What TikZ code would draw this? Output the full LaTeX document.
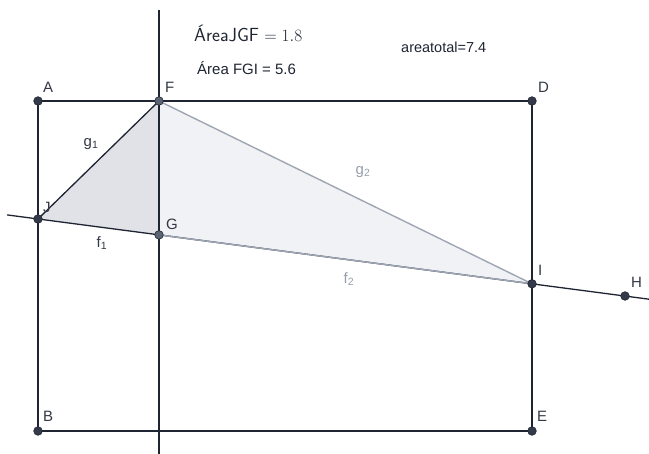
\documentclass[tikz,border=0pt]{standalone}
\usepackage{fontspec}
\setmainfont{Liberation Sans}
\usetikzlibrary{positioning}

\definecolor{inkline}{RGB}{30,36,50}
\definecolor{inkpt}{RGB}{52,58,72}
\definecolor{softpt}{RGB}{92,100,114}
\definecolor{greyedge}{RGB}{158,166,180}
\definecolor{greytext}{RGB}{150,158,170}
\definecolor{lighttri}{RGB}{241,242,245}
\definecolor{darktri}{RGB}{224,226,231}
\definecolor{labtext}{RGB}{50,56,68}

\begin{document}
\begin{tikzpicture}[x=1pt,y=-1pt,
  geo/.style={draw=inkline,line width=1.3pt},
  faint/.style={draw=greyedge,line width=1.4pt},
  pt/.style={circle,fill=inkpt,draw=inkline,line width=0.6pt,inner sep=0pt,minimum size=8.6pt},
  softdot/.style={pt,fill=softpt},
  lab/.style={inner sep=0pt,text=labtext,font=\fontsize{15}{16}\selectfont},
  seglab/.style={lab,text=greytext}]
\useasboundingbox (0,0) rectangle (649,454);
% points of the figure
\coordinate (A) at (38,101);
\coordinate (F) at (159,101);
\coordinate (D) at (532,101);
\coordinate (J) at (38,219);
\coordinate (G) at (159,234.9);
\coordinate (I) at (532,283.8);
\coordinate (H) at (625,296);
\coordinate (B) at (38,431);
\coordinate (E) at (532,431);
\coordinate (vtop) at (159,10);
\coordinate (vbot) at (159,454);
\coordinate (lleft) at (7,214.9);
\coordinate (lright) at (649,299.2);
% filled triangles
\fill[lighttri] (F) -- (G) -- (I) -- cycle;
\fill[darktri] (J) -- (G) -- (F) -- cycle;
% rectangle and lines
\draw[geo] (A) -- (D) -- (E) -- (B) -- cycle;
\draw[geo] (vtop) -- (vbot);
\draw[geo] (lleft) -- (lright);
\draw[geo] (J) -- (F);
\draw[faint] (F) -- (I) -- (G);
% dots
\foreach \p in {A,D,J,I,H,B,E} \node[pt] (d\p) at (\p) {};
\node[softdot] (dF) at (F) {};
\node[softdot] (dG) at (G) {};
% point labels
\node[lab,above right=8pt and 5pt of A] (lA) {A};
\node[lab,above right=8pt and 6pt of F] (lF) {F};
\node[lab,above right=8pt and 6pt of D] (lD) {D};
\node[lab,above right=6pt and 5pt of J] (lJ) {J};
\node[lab,above right=5pt and 7pt of G] (lG) {G};
\node[lab,above right=8pt and 6pt of I] (lI) {I};
\node[lab,above right=8pt and 6pt of H] (lH) {H};
\node[lab,above right=9pt and 5pt of B] (lB) {B};
\node[lab,above right=9pt and 5pt of E] (lE) {E};
% segment labels
\node[lab] (lg1) at (91,144) {g\textsubscript{1}};
\node[lab] (lf1) at (102,243) {f\textsubscript{1}};
\node[seglab] (lg2) at (363,172) {g\textsubscript{2}};
\node[seglab] (lf2) at (349,279) {f\textsubscript{2}};
% area texts
\node[anchor=base west,inner sep=0pt,text=inkline,font=\fontsize{19}{20}\selectfont] (areaJGF) at (194,42) {\textsf{ÁreaJGF} $=1.8$};
\node[anchor=base west,inner sep=0pt,text=inkline,font=\fontsize{15}{16}\selectfont] (areaFGI) at (197,75) {Área FGI = 5.6};
\node[anchor=base west,inner sep=0pt,text=inkline,font=\fontsize{14.5}{16}\selectfont] (total) at (401,52.5) {areatotal=7.4};
\end{tikzpicture}
\end{document}
